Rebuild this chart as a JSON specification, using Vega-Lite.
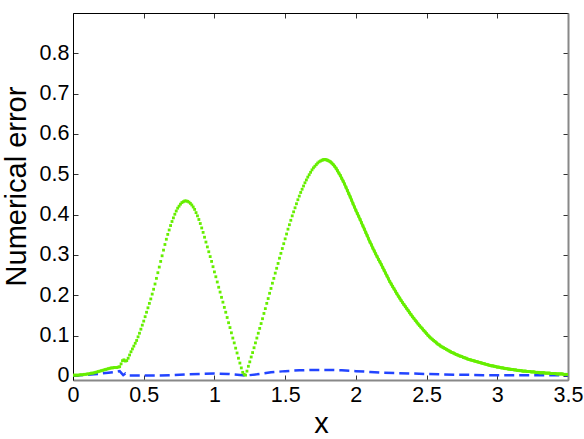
{
"$schema": "https://vega.github.io/schema/vega-lite/v6.json",
"width": 495, "height": 367,
"autosize": {"type": "none"},
"padding": {"left": 73, "top": 13, "right": 16, "bottom": 59},
"config": {"view": {"stroke": null}, "font": "Liberation Sans",
 "axis": {"grid": false, "labelFont": "Liberation Sans", "labelFontSize": 21.5, "labelColor": "#000", "titleFont": "Liberation Sans", "titleFontSize": 29, "titleFontWeight": "normal", "titleColor": "#000", "tickSize": -5, "tickColor": "#333", "format": "~g"}},
"datasets": {
"green": [
{"x":0,"y":0.002},{"x":0.01,"y":0.002},{"x":0.02,"y":0.002},{"x":0.03,"y":0.002},{"x":0.04,"y":0.002},{"x":0.05,"y":0.003},{"x":0.06,"y":0.003},{"x":0.07,"y":0.003},{"x":0.08,"y":0.004},{"x":0.09,"y":0.004},
{"x":0.1,"y":0.005},{"x":0.11,"y":0.005},{"x":0.12,"y":0.006},{"x":0.13,"y":0.007},{"x":0.14,"y":0.007},{"x":0.15,"y":0.008},{"x":0.16,"y":0.009},{"x":0.17,"y":0.01},{"x":0.18,"y":0.011},{"x":0.19,"y":0.012},
{"x":0.2,"y":0.013},{"x":0.21,"y":0.014},{"x":0.22,"y":0.015},{"x":0.23,"y":0.016},{"x":0.24,"y":0.017},{"x":0.25,"y":0.018},{"x":0.26,"y":0.019},{"x":0.27,"y":0.02},{"x":0.28,"y":0.02},{"x":0.29,"y":0.021},
{"x":0.3,"y":0.021},{"x":0.31,"y":0.021},{"x":0.32,"y":0.022},{"x":0.33,"y":0.023},{"x":0.34,"y":0.03},{"x":0.35,"y":0.038},{"x":0.36,"y":0.04},{"x":0.37,"y":0.037},{"x":0.38,"y":0.038},{"x":0.39,"y":0.044},
{"x":0.4,"y":0.052},{"x":0.41,"y":0.06},{"x":0.42,"y":0.067},{"x":0.43,"y":0.074},{"x":0.44,"y":0.081},{"x":0.45,"y":0.088},{"x":0.46,"y":0.097},{"x":0.47,"y":0.106},{"x":0.48,"y":0.116},{"x":0.49,"y":0.126},
{"x":0.5,"y":0.136},{"x":0.51,"y":0.147},{"x":0.52,"y":0.158},{"x":0.53,"y":0.169},{"x":0.54,"y":0.18},{"x":0.55,"y":0.191},{"x":0.56,"y":0.203},{"x":0.57,"y":0.215},{"x":0.58,"y":0.228},{"x":0.59,"y":0.242},
{"x":0.6,"y":0.256},{"x":0.61,"y":0.27},{"x":0.62,"y":0.284},{"x":0.63,"y":0.298},{"x":0.64,"y":0.312},{"x":0.65,"y":0.326},{"x":0.66,"y":0.339},{"x":0.67,"y":0.351},{"x":0.68,"y":0.362},{"x":0.69,"y":0.373},
{"x":0.7,"y":0.383},{"x":0.71,"y":0.392},{"x":0.72,"y":0.401},{"x":0.73,"y":0.409},{"x":0.74,"y":0.416},{"x":0.75,"y":0.421},{"x":0.76,"y":0.426},{"x":0.77,"y":0.43},{"x":0.78,"y":0.432},{"x":0.79,"y":0.434},
{"x":0.8,"y":0.434},{"x":0.81,"y":0.433},{"x":0.82,"y":0.431},{"x":0.83,"y":0.428},{"x":0.84,"y":0.424},{"x":0.85,"y":0.419},{"x":0.86,"y":0.413},{"x":0.87,"y":0.405},{"x":0.88,"y":0.397},{"x":0.89,"y":0.388},
{"x":0.9,"y":0.378},{"x":0.91,"y":0.367},{"x":0.92,"y":0.356},{"x":0.93,"y":0.344},{"x":0.94,"y":0.332},{"x":0.95,"y":0.32},{"x":0.96,"y":0.308},{"x":0.97,"y":0.296},{"x":0.98,"y":0.284},{"x":0.99,"y":0.271},
{"x":1,"y":0.258},{"x":1.01,"y":0.246},{"x":1.02,"y":0.233},{"x":1.03,"y":0.22},{"x":1.04,"y":0.208},{"x":1.05,"y":0.195},{"x":1.06,"y":0.183},{"x":1.07,"y":0.17},{"x":1.08,"y":0.158},{"x":1.09,"y":0.145},
{"x":1.1,"y":0.132},{"x":1.11,"y":0.12},{"x":1.12,"y":0.107},{"x":1.13,"y":0.094},{"x":1.14,"y":0.082},{"x":1.15,"y":0.069},{"x":1.16,"y":0.057},{"x":1.17,"y":0.044},{"x":1.18,"y":0.032},{"x":1.19,"y":0.02},
{"x":1.2,"y":0.009},{"x":1.21,"y":0.004},{"x":1.22,"y":0.002},{"x":1.23,"y":0.012},{"x":1.24,"y":0.024},{"x":1.25,"y":0.035},{"x":1.26,"y":0.047},{"x":1.27,"y":0.058},{"x":1.28,"y":0.07},{"x":1.29,"y":0.082},
{"x":1.3,"y":0.094},{"x":1.31,"y":0.106},{"x":1.32,"y":0.118},{"x":1.33,"y":0.13},{"x":1.34,"y":0.142},{"x":1.35,"y":0.155},{"x":1.36,"y":0.167},{"x":1.37,"y":0.18},{"x":1.38,"y":0.192},{"x":1.39,"y":0.205},
{"x":1.4,"y":0.217},{"x":1.41,"y":0.23},{"x":1.42,"y":0.242},{"x":1.43,"y":0.255},{"x":1.44,"y":0.267},{"x":1.45,"y":0.279},{"x":1.46,"y":0.292},{"x":1.47,"y":0.304},{"x":1.48,"y":0.316},{"x":1.49,"y":0.328},
{"x":1.5,"y":0.34},{"x":1.51,"y":0.352},{"x":1.52,"y":0.364},{"x":1.53,"y":0.375},{"x":1.54,"y":0.386},{"x":1.55,"y":0.397},{"x":1.56,"y":0.407},{"x":1.57,"y":0.417},{"x":1.58,"y":0.427},{"x":1.59,"y":0.437},
{"x":1.6,"y":0.446},{"x":1.61,"y":0.455},{"x":1.62,"y":0.463},{"x":1.63,"y":0.471},{"x":1.64,"y":0.479},{"x":1.65,"y":0.486},{"x":1.66,"y":0.493},{"x":1.67,"y":0.499},{"x":1.68,"y":0.505},{"x":1.69,"y":0.511},
{"x":1.7,"y":0.516},{"x":1.71,"y":0.52},{"x":1.72,"y":0.524},{"x":1.73,"y":0.528},{"x":1.74,"y":0.531},{"x":1.75,"y":0.533},{"x":1.76,"y":0.535},{"x":1.77,"y":0.536},{"x":1.78,"y":0.537},{"x":1.79,"y":0.536},
{"x":1.8,"y":0.535},{"x":1.81,"y":0.533},{"x":1.82,"y":0.531},{"x":1.83,"y":0.528},{"x":1.84,"y":0.524},{"x":1.85,"y":0.52},{"x":1.86,"y":0.515},{"x":1.87,"y":0.509},{"x":1.88,"y":0.503},{"x":1.89,"y":0.497},
{"x":1.9,"y":0.49},{"x":1.91,"y":0.483},{"x":1.92,"y":0.476},{"x":1.93,"y":0.468},{"x":1.94,"y":0.46},{"x":1.95,"y":0.452},{"x":1.96,"y":0.444},{"x":1.97,"y":0.436},{"x":1.98,"y":0.427},{"x":1.99,"y":0.419},
{"x":2,"y":0.411},{"x":2.01,"y":0.403},{"x":2.02,"y":0.396},{"x":2.03,"y":0.388},{"x":2.04,"y":0.38},{"x":2.05,"y":0.372},{"x":2.06,"y":0.364},{"x":2.07,"y":0.356},{"x":2.08,"y":0.348},{"x":2.09,"y":0.34},
{"x":2.1,"y":0.332},{"x":2.11,"y":0.325},{"x":2.12,"y":0.317},{"x":2.13,"y":0.31},{"x":2.14,"y":0.303},{"x":2.15,"y":0.296},{"x":2.16,"y":0.289},{"x":2.17,"y":0.283},{"x":2.18,"y":0.276},{"x":2.19,"y":0.269},
{"x":2.2,"y":0.262},{"x":2.21,"y":0.255},{"x":2.22,"y":0.248},{"x":2.23,"y":0.241},{"x":2.24,"y":0.234},{"x":2.25,"y":0.228},{"x":2.26,"y":0.222},{"x":2.27,"y":0.216},{"x":2.28,"y":0.21},{"x":2.29,"y":0.204},
{"x":2.3,"y":0.198},{"x":2.31,"y":0.193},{"x":2.32,"y":0.187},{"x":2.33,"y":0.182},{"x":2.34,"y":0.177},{"x":2.35,"y":0.172},{"x":2.36,"y":0.167},{"x":2.37,"y":0.162},{"x":2.38,"y":0.157},{"x":2.39,"y":0.152},
{"x":2.4,"y":0.147},{"x":2.41,"y":0.143},{"x":2.42,"y":0.138},{"x":2.43,"y":0.134},{"x":2.44,"y":0.129},{"x":2.45,"y":0.125},{"x":2.46,"y":0.121},{"x":2.47,"y":0.117},{"x":2.48,"y":0.113},{"x":2.49,"y":0.109},
{"x":2.5,"y":0.105},{"x":2.51,"y":0.101},{"x":2.52,"y":0.097},{"x":2.53,"y":0.094},{"x":2.54,"y":0.091},{"x":2.55,"y":0.088},{"x":2.56,"y":0.085},{"x":2.57,"y":0.082},{"x":2.58,"y":0.079},{"x":2.59,"y":0.077},
{"x":2.6,"y":0.074},{"x":2.61,"y":0.072},{"x":2.62,"y":0.07},{"x":2.63,"y":0.068},{"x":2.64,"y":0.066},{"x":2.65,"y":0.064},{"x":2.66,"y":0.062},{"x":2.67,"y":0.06},{"x":2.68,"y":0.058},{"x":2.69,"y":0.057},
{"x":2.7,"y":0.055},{"x":2.71,"y":0.053},{"x":2.72,"y":0.052},{"x":2.73,"y":0.05},{"x":2.74,"y":0.049},{"x":2.75,"y":0.048},{"x":2.76,"y":0.046},{"x":2.77,"y":0.045},{"x":2.78,"y":0.044},{"x":2.79,"y":0.042},
{"x":2.8,"y":0.041},{"x":2.81,"y":0.04},{"x":2.82,"y":0.039},{"x":2.83,"y":0.038},{"x":2.84,"y":0.037},{"x":2.85,"y":0.036},{"x":2.86,"y":0.035},{"x":2.87,"y":0.034},{"x":2.88,"y":0.033},{"x":2.89,"y":0.032},
{"x":2.9,"y":0.031},{"x":2.91,"y":0.03},{"x":2.92,"y":0.029},{"x":2.93,"y":0.028},{"x":2.94,"y":0.027},{"x":2.95,"y":0.026},{"x":2.96,"y":0.025},{"x":2.97,"y":0.025},{"x":2.98,"y":0.024},{"x":2.99,"y":0.023},
{"x":3,"y":0.022},{"x":3.01,"y":0.022},{"x":3.02,"y":0.021},{"x":3.03,"y":0.02},{"x":3.04,"y":0.02},{"x":3.05,"y":0.019},{"x":3.06,"y":0.018},{"x":3.07,"y":0.018},{"x":3.08,"y":0.017},{"x":3.09,"y":0.017},
{"x":3.1,"y":0.016},{"x":3.11,"y":0.016},{"x":3.12,"y":0.015},{"x":3.13,"y":0.015},{"x":3.14,"y":0.014},{"x":3.15,"y":0.014},{"x":3.16,"y":0.013},{"x":3.17,"y":0.013},{"x":3.18,"y":0.012},{"x":3.19,"y":0.012},
{"x":3.2,"y":0.012},{"x":3.21,"y":0.011},{"x":3.22,"y":0.011},{"x":3.23,"y":0.011},{"x":3.24,"y":0.01},{"x":3.25,"y":0.01},{"x":3.26,"y":0.01},{"x":3.27,"y":0.009},{"x":3.28,"y":0.009},{"x":3.29,"y":0.009},
{"x":3.3,"y":0.008},{"x":3.31,"y":0.008},{"x":3.32,"y":0.008},{"x":3.33,"y":0.008},{"x":3.34,"y":0.007},{"x":3.35,"y":0.007},{"x":3.36,"y":0.007},{"x":3.37,"y":0.007},{"x":3.38,"y":0.006},{"x":3.39,"y":0.006},
{"x":3.4,"y":0.006},{"x":3.41,"y":0.006},{"x":3.42,"y":0.005},{"x":3.43,"y":0.005},{"x":3.44,"y":0.005},{"x":3.45,"y":0.005},{"x":3.46,"y":0.005},{"x":3.47,"y":0.004},{"x":3.48,"y":0.004},{"x":3.49,"y":0.004},
{"x":3.5,"y":0.004}
],
"blue": [
{"x":0,"y":0.001},{"x":0.05,"y":0.002},{"x":0.1,"y":0.003},{"x":0.15,"y":0.004},{"x":0.2,"y":0.006},{"x":0.25,"y":0.008},{"x":0.3,"y":0.01},{"x":0.33,"y":0.012},{"x":0.355,"y":0.002},{"x":0.37,"y":0.006},{"x":0.39,"y":0.001},
{"x":0.5,"y":0.001},{"x":0.6,"y":0.001},{"x":0.7,"y":0.002},{"x":0.8,"y":0.004},{"x":0.9,"y":0.005},{"x":1,"y":0.006},{"x":1.1,"y":0.005},{"x":1.2,"y":0.002},{"x":1.22,"y":0.001},
{"x":1.3,"y":0.004},{"x":1.4,"y":0.009},{"x":1.5,"y":0.012},{"x":1.6,"y":0.014},{"x":1.7,"y":0.015},{"x":1.8,"y":0.015},{"x":1.9,"y":0.014},{"x":2,"y":0.012},{"x":2.1,"y":0.01},{"x":2.2,"y":0.008},
{"x":2.3,"y":0.007},{"x":2.4,"y":0.006},{"x":2.5,"y":0.005},{"x":2.6,"y":0.004},{"x":2.7,"y":0.003},{"x":2.8,"y":0.003},{"x":2.9,"y":0.002},{"x":3,"y":0.002},{"x":3.2,"y":0.002},{"x":3.5,"y":0.002}
]
},
"layer": [
 {"data": {"name": "blue"},
  "mark": {"type": "line", "color": "#2244ff", "strokeWidth": 2.5, "strokeDash": [10, 5], "clip": true},
  "encoding": {
   "x": {"field": "x", "type": "quantitative", "scale": {"domain": [0, 3.5], "nice": false, "zero": false},
     "axis": {"orient": "top", "labels": false, "title": null, "values": [0,0.5,1,1.5,2,2.5,3,3.5], "domainColor": "#000", "domainWidth": 1}},
   "y": {"field": "y", "type": "quantitative", "scale": {"domain": [-0.01, 0.9], "nice": false, "zero": false},
     "axis": {"orient": "right", "labels": false, "title": null, "values": [0,0.1,0.2,0.3,0.4,0.5,0.6,0.7,0.8], "domainColor": "#888", "domainWidth": 2}}
  }},
 {"data": {"name": "green"},
  "transform": [{"filter": "datum.x >= 1.76"}],
  "mark": {"type": "line", "color": "#66ee00", "strokeWidth": 2.8, "clip": true},
  "encoding": {
   "x": {"field": "x", "type": "quantitative", "axis": null},
   "y": {"field": "y", "type": "quantitative", "axis": null}
  }},
 {"data": {"name": "green"},
  "mark": {"type": "point", "shape": "square", "filled": true, "size": 8, "color": "#66ee00", "opacity": 1, "clip": true},
  "encoding": {
   "x": {"field": "x", "type": "quantitative", "scale": {"domain": [0, 3.5], "nice": false, "zero": false},
     "axis": {"orient": "bottom", "title": "x", "values": [0,0.5,1,1.5,2,2.5,3,3.5], "domainColor": "#888", "domainWidth": 2, "labelPadding": 9, "labelFlush": false, "titleBaseline": "alphabetic", "titleY": 52, "titleX": 248}},
   "y": {"field": "y", "type": "quantitative", "scale": {"domain": [-0.01, 0.9], "nice": false, "zero": false},
     "axis": {"orient": "left", "title": "Numerical error", "values": [0,0.1,0.2,0.3,0.4,0.5,0.6,0.7,0.8], "domainColor": "#000", "domainWidth": 1, "labelPadding": 9, "labelFlush": false, "titleX": -57, "titleY": 173, "titleAngle": 270, "titleBaseline": "middle", "titleAlign": "center"}}
  }}
],
"resolve": {"axis": {"x": "independent", "y": "independent"}}
}
